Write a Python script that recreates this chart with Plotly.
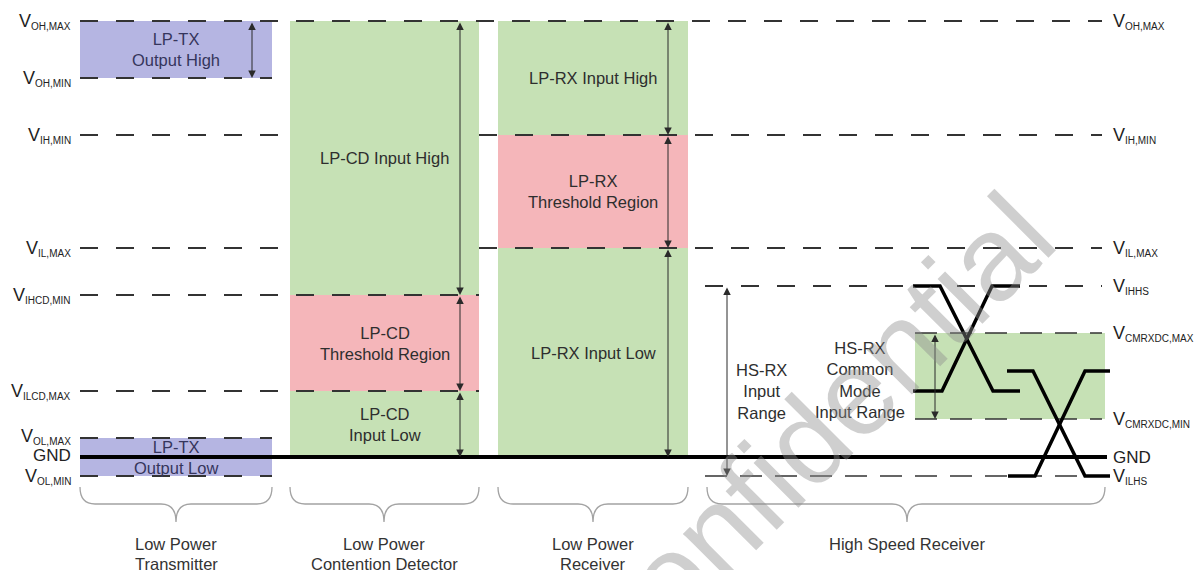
import plotly.graph_objects as go

# ---------------- data: voltage levels (arbitrary units, GND = 0) ----------------
GND = 0
VOH_MAX, VOH_MIN = 436, 379
VIH_MIN, VIL_MAX = 322, 209
VIHCD_MIN, VILCD_MAX = 162, 66
VOL_MAX, VOL_MIN = 19, -19
VIHHS, VILHS = 171, -19
VCMRX_MAX, VCMRX_MIN = 124, 38
EYE1_HIGH, EYE1_LOW = 171, 66
EYE2_HIGH, EYE2_LOW = 86, -19

left_subs = ["OH,MAX", "OH,MIN", "IH,MIN", "IL,MAX", "IHCD,MIN", "ILCD,MAX", "OL,MAX", None, "OL,MIN"]
left_levels = [VOH_MAX, VOH_MIN, VIH_MIN, VIL_MAX, VIHCD_MIN, VILCD_MAX, VOL_MAX + 2, GND + 2, VOL_MIN]

right_subs = ["OH,MAX", "IH,MIN", "IL,MAX", "IHHS", "CMRXDC,MAX", "CMRXDC,MIN", None, "ILHS"]
right_levels = [VOH_MAX, VIH_MIN, VIL_MAX, VIHHS, VCMRX_MAX, VCMRX_MIN, GND, VILHS]

# groups (horizontal position along the diagram)
group_line1 = ["Low Power", "Low Power", "Low Power", "High Speed Receiver"]
group_line2 = ["Transmitter", "Contention Detector", "Receiver", ""]
group_x0 = [80, 290, 498, 707]
group_x1 = [272, 479, 688, 1105]
group_center = [176, 384, 593, 907]

# shaded regions
region_text = ["LP-TX<br>Output High", "LP-TX<br>Output Low",
               "LP-CD Input High", "LP-CD<br>Threshold Region", "LP-CD<br>Input Low",
               "LP-RX Input High", "LP-RX<br>Threshold Region", "LP-RX Input Low", ""]
region_x0 = [80, 80, 290, 290, 290, 498, 498, 498, 915]
region_x1 = [272, 272, 479, 479, 479, 688, 688, 688, 1105]
region_lo = [VOH_MIN, VOL_MIN, VIHCD_MIN, VILCD_MAX, GND, VIH_MIN, VIL_MAX, GND, VCMRX_MIN]
region_hi = [VOH_MAX, VOL_MAX, VOH_MAX, VIHCD_MIN, VILCD_MAX, VOH_MAX, VIH_MIN, VIL_MAX, VCMRX_MAX]
region_kind = ["tx", "tx", "ok", "thr", "ok", "ok", "thr", "ok", "ok"]

# dashed reference lines (segments)
dash_levels = [VOH_MAX, VOH_MIN, VIH_MIN, VIH_MIN, VIL_MAX, VIL_MAX, VIHCD_MIN, VILCD_MAX,
               VOL_MAX, VOL_MIN, VIHHS]
dash_x0 = [80, 80, 80, 479, 80, 479, 80, 80, 80, 80, 705]
dash_x1 = [1102, 272, 290, 1102, 290, 1102, 479, 479, 272, 272, 1102]
long_dash_levels = [VCMRX_MAX, VCMRX_MIN, VILHS]
long_dash_x0 = [915, 915, 705]
long_dash_x1 = [1102, 1102, 1102]

# range arrows
arrow_x = [252, 460, 460, 460, 668, 668, 668, 727, 935]
arrow_lo = [VOH_MIN, VIHCD_MIN, VILCD_MAX, GND, VIH_MIN, VIL_MAX, GND, VILHS, VCMRX_MIN]
arrow_hi = [VOH_MAX, VOH_MAX, VIHCD_MIN, VILCD_MAX, VOH_MAX, VIH_MIN, VIL_MAX, VIHHS, VCMRX_MAX]

# high-speed differential waveforms
eye1_t_a = [913, 940, 993, 1020]
eye1_v_a = [EYE1_HIGH, EYE1_HIGH, EYE1_LOW, EYE1_LOW]
eye1_t_b = [913, 942, 992, 1020]
eye1_v_b = [EYE1_LOW, EYE1_LOW, EYE1_HIGH, EYE1_HIGH]
eye2_t_a = [1007, 1033, 1085, 1110]
eye2_v_a = [EYE2_HIGH, EYE2_HIGH, EYE2_LOW, EYE2_LOW]
eye2_t_b = [1008, 1035, 1085, 1110]
eye2_v_b = [EYE2_LOW, EYE2_LOW, EYE2_HIGH, EYE2_HIGH]

gnd_x = [80, 1107]

# ---------------- styles ----------------
FONT = "Arial, Liberation Sans, sans-serif"
FILL = {"tx": "#b5b5e2", "ok": "#c6e1b5", "thr": "#f5b6ba"}
TXT = "#2e2e2e"
FS = 16.5
PAGE_MARGIN = 8          # default <body> margin of the html page
W, H = 1203, 570

fig = go.Figure()
shapes = []
annotations = []

for x0, x1, lo, hi, k in zip(region_x0, region_x1, region_lo, region_hi, region_kind):
    shapes.append(dict(type="rect", xref="x", yref="y", x0=x0, x1=x1, y0=lo, y1=hi,
                       fillcolor=FILL[k], line=dict(width=0), layer="below"))

# braces under each group
B_TOP, B_MID, B_TIP, R = -30, -47, -65, 15
for x0, x1, c in zip(group_x0, group_x1, group_center):
    path = (f"M {x0},{B_TOP} Q {x0},{B_MID} {x0+R},{B_MID} L {c-R},{B_MID} "
            f"Q {c},{B_MID} {c},{B_TIP} Q {c},{B_MID} {c+R},{B_MID} "
            f"L {x1-R},{B_MID} Q {x1},{B_MID} {x1},{B_TOP}")
    shapes.append(dict(type="path", xref="x", yref="y", path=path,
                       line=dict(color="#a3a3a3", width=1.3)))


def segments(levels, x0s, x1s):
    xs, ys = [], []
    for lv, a, b in zip(levels, x0s, x1s):
        xs += [a, b, None]
        ys += [lv, lv, None]
    return xs, ys


dx, dy = segments(dash_levels, dash_x0, dash_x1)
fig.add_trace(go.Scatter(x=dx, y=dy, mode="lines", hoverinfo="skip",
                         line=dict(color="#333333", width=2, dash="18px,18px")))
lx, ly = segments(long_dash_levels, long_dash_x0, long_dash_x1)
fig.add_trace(go.Scatter(x=lx, y=ly, mode="lines", hoverinfo="skip",
                         line=dict(color="#333333", width=1.7, dash="22px,13px")))

# GND line
fig.add_trace(go.Scatter(x=gnd_x, y=[GND, GND], mode="lines", hoverinfo="skip",
                         line=dict(color="black", width=4)))

# waveforms
for t, v in [(eye1_t_a, eye1_v_a), (eye1_t_b, eye1_v_b), (eye2_t_a, eye2_v_a), (eye2_t_b, eye2_v_b)]:
    fig.add_trace(go.Scatter(x=t, y=v, mode="lines", hoverinfo="skip",
                             line=dict(color="black", width=3.5)))

# arrows
for x, lo, hi in zip(arrow_x, arrow_lo, arrow_hi):
    annotations.append(dict(x=x, y=lo, ax=x, ay=hi, xref="x", yref="y", axref="x", ayref="y",
                            text="", showarrow=True, arrowhead=2, startarrowhead=2,
                            arrowside="end+start", arrowsize=1.5, startarrowsize=1.5, arrowwidth=1,
                            arrowcolor="#2a2a2a", standoff=0, startstandoff=0))

# region labels
for t, x0, x1, lo, hi, k in zip(region_text, region_x0, region_x1, region_lo, region_hi, region_kind):
    if not t:
        continue
    annotations.append(dict(x=(x0 + x1) / 2, y=(lo + hi) / 2, text=t, showarrow=False,
                            xref="x", yref="y",
                            font=dict(family=FONT, size=FS, color="#35355c" if k == "tx" else TXT)))

annotations.append(dict(x=761, y=(VIHHS + VILHS) / 2 - 10, text="HS-RX<br>Input<br>Range", showarrow=False,
                        font=dict(family=FONT, size=FS, color=TXT)))
annotations.append(dict(x=860, y=(VCMRX_MAX + VCMRX_MIN) / 2 - 4, text="HS-RX<br>Common<br>Mode<br>Input Range",
                        showarrow=False, font=dict(family=FONT, size=FS, color=TXT)))


def vlabel(sub):
    if sub is None:
        return "GND", 17
    return f"<span style='font-size:18px'>V</span><sub><span style='font-size:10px'>{sub}</span></sub>", 14


# level labels
for s, lv in zip(left_subs, left_levels):
    t, fs = vlabel(s)
    annotations.append(dict(x=73, y=lv, text=t, showarrow=False, xanchor="right",
                            font=dict(family=FONT, size=fs, color="#222")))
for s, lv in zip(right_subs, right_levels):
    t, fs = vlabel(s)
    annotations.append(dict(x=1111, y=lv, text=t, showarrow=False, xanchor="left",
                            font=dict(family=FONT, size=fs, color="#222")))

# group labels
for l1, l2, c in zip(group_line1, group_line2, group_center):
    annotations.append(dict(x=c, y=-87, text=l1, showarrow=False,
                            font=dict(family=FONT, size=FS, color="#333")))
    if l2:
        annotations.append(dict(x=c, y=-107, text=l2, showarrow=False,
                                font=dict(family=FONT, size=FS, color="#333")))

# watermark
annotations.append(dict(x=808, y=18, text="Confidential", showarrow=False, textangle=-45,
                        font=dict(family=FONT, size=120, color="rgba(140,140,140,0.42)")))

fig.update_layout(
    width=W - PAGE_MARGIN, height=H - PAGE_MARGIN, margin=dict(l=0, r=0, t=0, b=0),
    paper_bgcolor="white", plot_bgcolor="white", showlegend=False,
    xaxis=dict(range=[PAGE_MARGIN, W], visible=False, fixedrange=True),
    yaxis=dict(range=[-113, 457 - PAGE_MARGIN], visible=False, fixedrange=True),
    shapes=shapes, annotations=annotations,
)

fig.write_html("out.html")
